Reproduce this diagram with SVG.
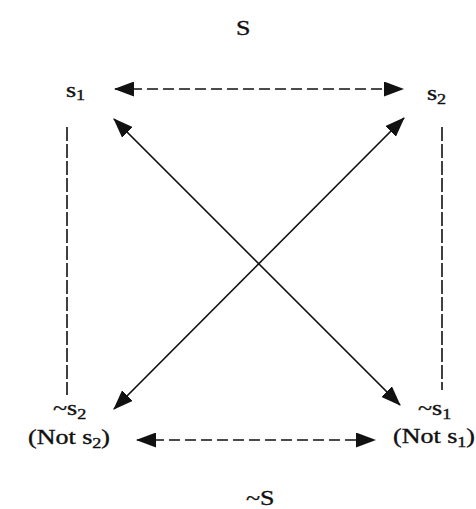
<svg xmlns="http://www.w3.org/2000/svg" width="476" height="509" viewBox="0 0 476 509">
  <style>
    text { font-family: "Liberation Serif", "Times New Roman", serif; font-size: 20px; fill: #111; stroke: #111; stroke-width: 0.35; }
    .sub { font-size: 14px; }
    .solid { stroke: #111; stroke-width: 1.7; fill: none; }
    .dash { stroke: #111; stroke-width: 1.7; fill: none; stroke-dasharray: 11 5; }
    .vdash { stroke: #111; stroke-width: 1.6; fill: none; stroke-dasharray: 14 3; }
  </style>
  <defs>
    <marker id="ah" viewBox="0 0 20 15" refX="19" refY="7.5" markerWidth="20" markerHeight="15" markerUnits="userSpaceOnUse" orient="auto-start-reverse">
      <path d="M0,0 L20,7.5 L0,15 z" fill="#111"/>
    </marker>
  </defs>
  <rect width="476" height="509" fill="#ffffff"/>

  <g id="connectors">
    <line class="dash" x1="115" y1="89" x2="403" y2="89" marker-start="url(#ah)" marker-end="url(#ah)"/>
    <line class="dash" x1="137" y1="440" x2="375" y2="440" marker-start="url(#ah)" marker-end="url(#ah)"/>
    <line class="solid" x1="114" y1="119" x2="400" y2="405" marker-start="url(#ah)" marker-end="url(#ah)"/>
    <line class="solid" x1="404" y1="118" x2="114" y2="409" marker-start="url(#ah)" marker-end="url(#ah)"/>
    <line class="vdash" x1="67" y1="127" x2="67" y2="395"/>
    <line class="vdash" x1="442" y1="127" x2="442" y2="390"/>
  </g>

  <g id="node-S">
    <text transform="translate(236,35) scale(1.3,1)">S</text>
  </g>
  <g id="node-s1">
    <text transform="translate(66,97) scale(1.3,1)">s<tspan class="sub" dy="3">1</tspan></text>
  </g>
  <g id="node-s2">
    <text transform="translate(427,100) scale(1.3,1)">s<tspan class="sub" dy="4">2</tspan></text>
  </g>
  <g id="node-not-s2">
    <text transform="translate(53,415) scale(1.3,1)">~s<tspan class="sub" dy="4">2</tspan></text>
    <text transform="translate(28,444) scale(1.3,1)">(Not s<tspan class="sub" dy="4">2</tspan><tspan dy="-4">)</tspan></text>
  </g>
  <g id="node-not-s1">
    <text transform="translate(418,415) scale(1.3,1)">~s<tspan class="sub" dy="4">1</tspan></text>
    <text transform="translate(393,443) scale(1.3,1)">(Not s<tspan class="sub" dy="4">1</tspan><tspan dy="-4">)</tspan></text>
  </g>
  <g id="node-notS">
    <text transform="translate(246,505) scale(1.3,1)">~S</text>
  </g>
</svg>
